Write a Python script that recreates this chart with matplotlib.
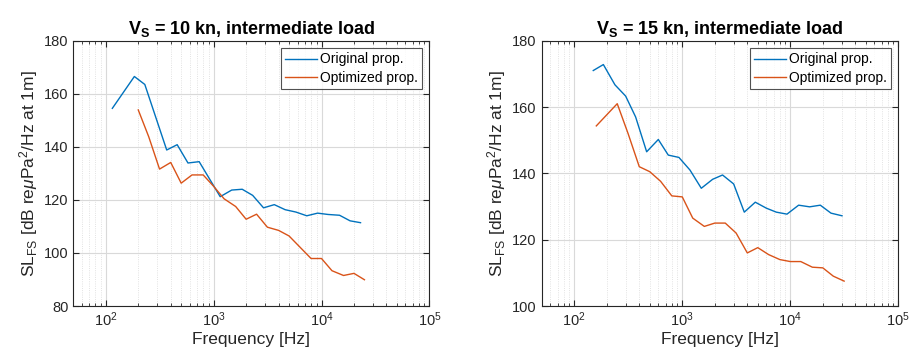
import numpy as np
import matplotlib
matplotlib.use('Agg')
import matplotlib.pyplot as plt
from matplotlib.ticker import LogLocator, NullFormatter

plt.rcParams['font.family'] = ['Liberation Sans', 'DejaVu Sans']
plt.rcParams['mathtext.fontset'] = 'custom'
plt.rcParams['mathtext.rm'] = 'Liberation Sans'
plt.rcParams['mathtext.it'] = 'Liberation Sans:italic'
plt.rcParams['mathtext.bf'] = 'Liberation Sans:bold'

# 10 kn case
freqOrig10 = [115, 184, 230, 367, 459, 578, 734, 1150, 1470, 1840, 2300, 2900,
              3650, 4600, 5800, 7300, 9200, 11500, 14700, 18400, 23000]
slOrig10 = [154.5, 166.5, 163.5, 138.8, 140.8, 133.9, 134.4, 121.2, 123.7, 124.0, 121.7, 117.0,
            118.2, 116.3, 115.4, 114.0, 115.0, 114.5, 114.2, 112.1, 111.4]
freqOpt10 = [200, 250, 315, 400, 500, 630, 800, 1000, 1250, 1600, 2000, 2500,
             3150, 4000, 5000, 8000, 10000, 12500, 16000, 20000, 25000]
slOpt10 = [153.9, 143.8, 131.6, 134.1, 126.3, 129.4, 129.4, 125.1, 120.4, 117.5, 112.7, 114.6,
           109.7, 108.5, 106.4, 97.9, 97.9, 93.3, 91.5, 92.3, 89.9]

# 15 kn case
freqOrig15 = [150, 186, 238, 299, 370, 468, 600, 742, 931, 1178, 1500, 1910,
              2360, 2990, 3750, 4740, 6000, 7420, 9320, 11940, 15100, 18960, 23800, 30100]
slOrig15 = [171.0, 172.8, 166.7, 163.3, 157.0, 146.5, 150.2, 145.5, 144.8, 141.0, 135.5, 138.2,
            139.5, 136.8, 128.3, 131.3, 129.5, 128.3, 127.7, 130.4, 129.9, 130.4, 128.0, 127.2]
freqOpt15 = [160, 250, 315, 400, 500, 630, 800, 1000, 1250, 1600, 2000, 2500,
             3150, 4000, 5000, 6300, 8000, 10000, 12500, 16000, 20000, 25000, 31500]
slOpt15 = [154.3, 161.0, 152.0, 142.0, 140.5, 137.6, 133.2, 132.9, 126.5, 124.0, 125.0, 125.0,
           122.0, 116.0, 117.6, 115.5, 114.0, 113.4, 113.4, 111.7, 111.5, 109.0, 107.5]

titles = [r'$\mathbf{V}_\mathbf{S}$ = 10 kn, intermediate load',
          r'$\mathbf{V}_\mathbf{S}$ = 15 kn, intermediate load']
yLimits = [(80, 180), (100, 180)]

blue = [0, 0.447, 0.741]
orange = [0.85, 0.325, 0.098]
axColor = [0.15, 0.15, 0.15]

fig = plt.figure(figsize=(9.12, 3.6), dpi=100)
axes = [fig.add_axes([0.0804, 0.150, 0.3904, 0.737]),
        fig.add_axes([0.5940, 0.150, 0.3910, 0.737])]

data = [(freqOrig10, slOrig10, freqOpt10, slOpt10),
        (freqOrig15, slOrig15, freqOpt15, slOpt15)]

for k, ax in enumerate(axes):
    fO, sO, fP, sP = data[k]
    ax.plot(fO, sO, color=blue, linewidth=1.0, label='Original prop.')
    ax.plot(fP, sP, color=orange, linewidth=1.0, label='Optimized prop.')
    ax.set_xscale('log')
    ax.set_xlim(50, 1e5)
    ax.set_ylim(*yLimits[k])
    ax.set_yticks(np.arange(yLimits[k][0], 181, 20))
    ax.xaxis.set_major_locator(LogLocator(base=10, numticks=10))
    ax.xaxis.set_minor_locator(LogLocator(base=10, subs=np.arange(2, 10), numticks=20))
    ax.xaxis.set_minor_formatter(NullFormatter())
    ax.grid(True, which='major', color=[0.85, 0.85, 0.85], linewidth=0.8)
    ax.grid(True, which='minor', axis='x', color=[0.85, 0.85, 0.85], linewidth=0.6, linestyle=':')
    ax.set_axisbelow(True)
    ax.tick_params(which='both', direction='in', top=True, right=True, colors=axColor,
                   labelsize=10.5)
    ax.tick_params(which='major', length=4)
    ax.tick_params(which='minor', length=2)
    for s in ax.spines.values():
        s.set_color(axColor)
        s.set_linewidth(0.8)
    ax.set_xlabel('Frequency [Hz]', fontsize=12.5, color=axColor, labelpad=2)
    ax.set_ylabel(r'SL$_{\rm FS}$ [dB re$\mu$Pa$^2$/Hz at 1m]', fontsize=12.5, color=axColor, labelpad=3)
    ax.set_title(titles[k], fontsize=13, fontweight='bold', pad=5)
    leg = ax.legend(loc='upper right', fontsize=10, frameon=True, fancybox=False,
                    borderaxespad=0.55, handlelength=2.3, borderpad=0.3, labelspacing=0.3,
                    handletextpad=0.2)
    leg.get_frame().set_edgecolor(axColor)
    leg.get_frame().set_linewidth(0.8)

fig.savefig('out.png', dpi=100)
